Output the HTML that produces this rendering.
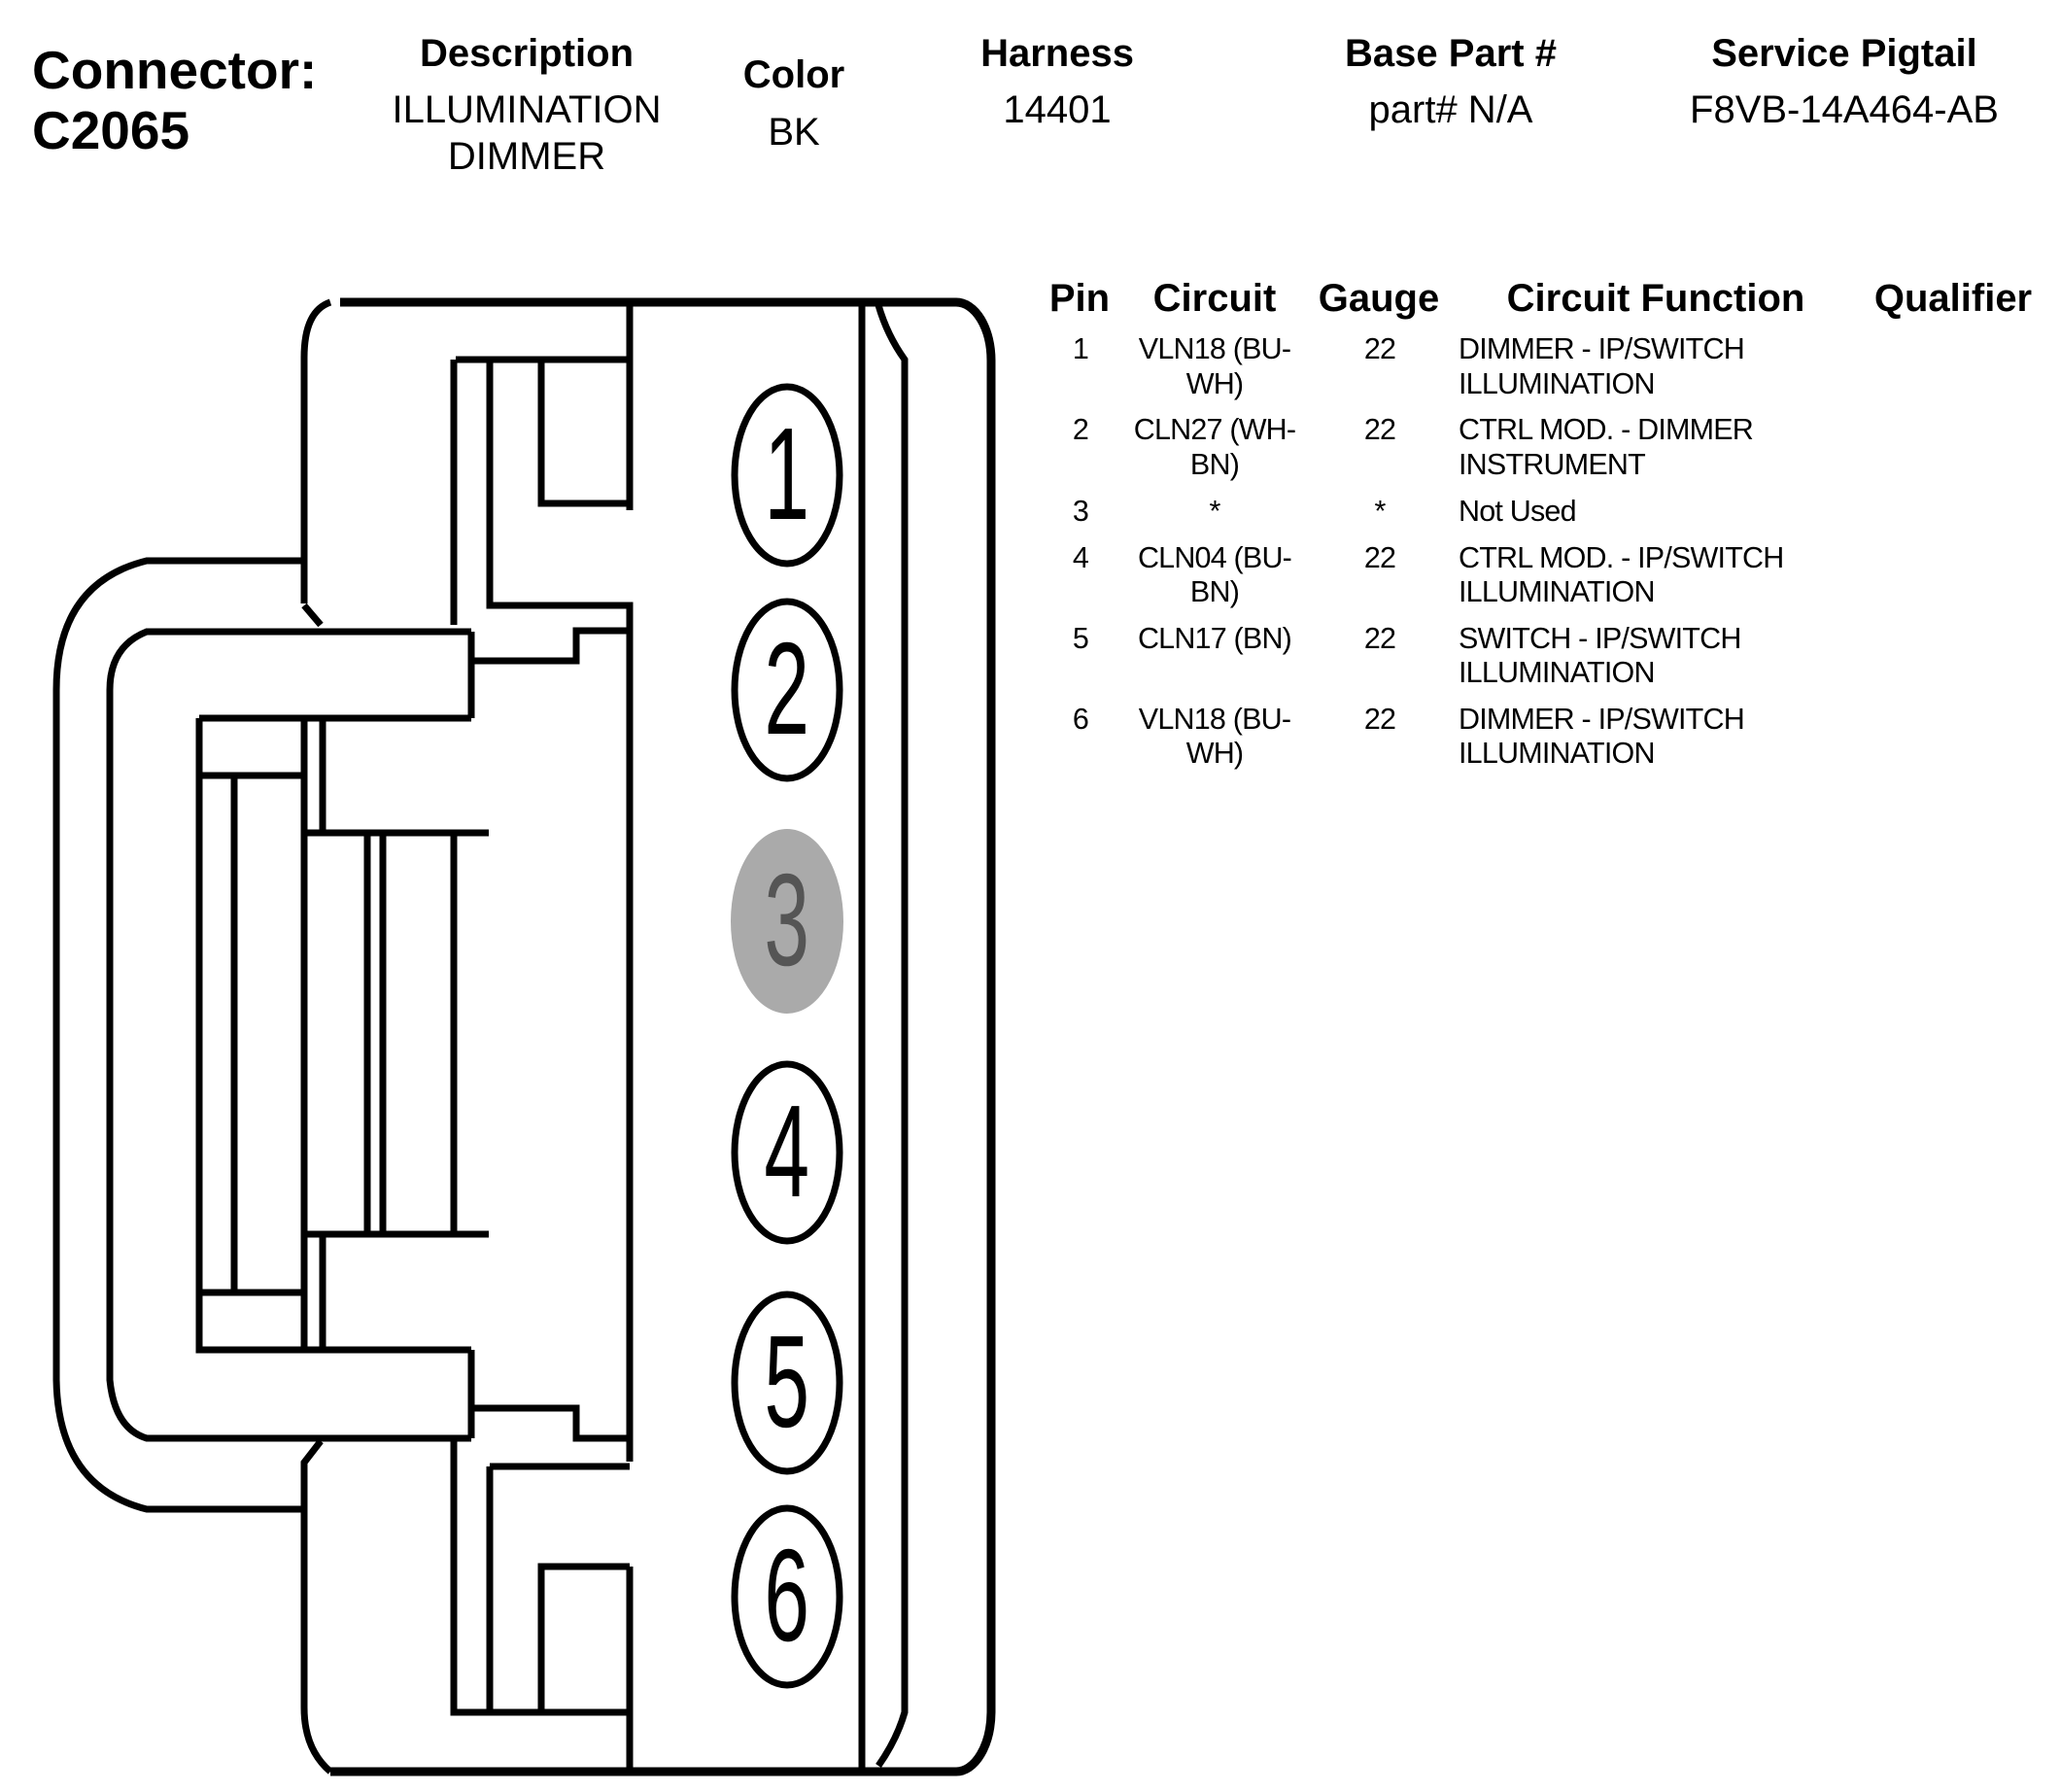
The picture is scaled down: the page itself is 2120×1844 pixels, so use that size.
<!DOCTYPE html>
<html><head><meta charset="utf-8"><style>
html,body{margin:0;padding:0;background:#fff;}
svg{display:block;}
.h{font-family:"Liberation Sans",sans-serif;font-weight:bold;font-size:40px;text-anchor:middle;}
.v{font-family:"Liberation Sans",sans-serif;font-size:40px;text-anchor:middle;}
.r{font-family:"Liberation Sans",sans-serif;font-size:30.5px;letter-spacing:-0.8px;}
.c{text-anchor:middle;}
.n{font-family:"Liberation Sans",sans-serif;font-size:135px;text-anchor:middle;}
</style></head><body>
<svg width="2120" height="1844" viewBox="0 0 2120 1844" xmlns="http://www.w3.org/2000/svg">
<rect width="2120" height="1844" fill="#fff"/>
<text x="33" y="91" font-family="Liberation Sans, sans-serif" font-weight="bold" font-size="55">Connector:</text>
<text x="33" y="153" font-family="Liberation Sans, sans-serif" font-weight="bold" font-size="55">C2065</text>
<text class="h" x="542" y="68">Description</text>
<text class="v" x="542" y="126">ILLUMINATION</text>
<text class="v" x="542" y="174">DIMMER</text>
<text class="h" x="817" y="90">Color</text>
<text class="v" x="817" y="149">BK</text>
<text class="h" x="1088" y="68">Harness</text>
<text class="v" x="1088" y="126">14401</text>
<text class="h" x="1493" y="68">Base Part #</text>
<text class="v" x="1493" y="126">part# N/A</text>
<text class="h" x="1898" y="68">Service Pigtail</text>
<text class="v" x="1898" y="126">F8VB-14A464-AB</text>

<text class="h" x="1111" y="320">Pin</text>
<text class="h" x="1250" y="320">Circuit</text>
<text class="h" x="1419" y="320">Gauge</text>
<text class="h" x="1704" y="320">Circuit Function</text>
<text class="h" x="2010" y="320">Qualifier</text>

<g class="r">
<text class="c" x="1112" y="369">1</text><text class="c" x="1250" y="369">VLN18 (BU-</text><text class="c" x="1250" y="405">WH)</text><text class="c" x="1420" y="369">22</text><text x="1501" y="369">DIMMER - IP/SWITCH</text><text x="1501" y="405">ILLUMINATION</text>
<text class="c" x="1112" y="452">2</text><text class="c" x="1250" y="452">CLN27 (WH-</text><text class="c" x="1250" y="488">BN)</text><text class="c" x="1420" y="452">22</text><text x="1501" y="452">CTRL MOD. - DIMMER</text><text x="1501" y="488">INSTRUMENT</text>
<text class="c" x="1112" y="536">3</text><text class="c" x="1250" y="536">*</text><text class="c" x="1420" y="536">*</text><text x="1501" y="536">Not Used</text>
<text class="c" x="1112" y="584">4</text><text class="c" x="1250" y="584">CLN04 (BU-</text><text class="c" x="1250" y="619">BN)</text><text class="c" x="1420" y="584">22</text><text x="1501" y="584">CTRL MOD. - IP/SWITCH</text><text x="1501" y="619">ILLUMINATION</text>
<text class="c" x="1112" y="667">5</text><text class="c" x="1250" y="667">CLN17 (BN)</text><text class="c" x="1420" y="667">22</text><text x="1501" y="667">SWITCH - IP/SWITCH</text><text x="1501" y="702">ILLUMINATION</text>
<text class="c" x="1112" y="750">6</text><text class="c" x="1250" y="750">VLN18 (BU-</text><text class="c" x="1250" y="785">WH)</text><text class="c" x="1420" y="750">22</text><text x="1501" y="750">DIMMER - IP/SWITCH</text><text x="1501" y="785">ILLUMINATION</text>
</g>

<g fill="none" stroke="#000" stroke-width="7">
<path d="M350,311 H984 A36,60 0 0 1 1020,371 V1762 A36,62 0 0 1 984,1823 H340" stroke-width="9"/>
<path d="M313,1757 Q313,1800 340,1823"/>
<path d="M340,311 Q313,320 313,368 V621"/>
<path d="M313,623 L330,643"/>
<path d="M313,577 H151 Q58,600 58,710 V1420 Q60,1530 151,1553 H313"/>
<path d="M330,1483 L313,1505 V1757"/>
<path d="M485,650 H151 Q113,665 113,710 V1420 Q118,1470 151,1480 H485"/>
<path d="M485,650 V739 M485,1389 V1480"/>
<path d="M205,739 H485 M205,739 V1389 H485 M205,798 H313 M241,798 V1330 M205,1330 H313 M313,739 V1389 M332,739 V857 M332,1270 V1389 M313,857 H503 M313,1270 H503 M378,857 V1270 M394,857 V1270 M467,857 V1270"/>
<path d="M648,311 V525 M469,370 H648 M557,370 V518 H648 M467,370 V643 M504,370 V623 H648 V1504 M485,680 H593 V649 H648"/>
<path d="M485,1449 H593 V1480 H648 M504,1509 H648 M504,1509 V1762 M467,1480 V1762 H648 M557,1762 V1612 H648 M648,1612 V1823"/>
<path d="M887,311 V1823"/>
<path d="M904,314 Q913,345 931,370 V1762 Q923,1790 904,1817"/>
<ellipse cx="810" cy="489" rx="54" ry="91"/>
<ellipse cx="810" cy="710" rx="54" ry="91"/>
<ellipse cx="810" cy="1186" rx="54" ry="91"/>
<ellipse cx="810" cy="1423" rx="54" ry="91"/>
<ellipse cx="810" cy="1643" rx="54" ry="91"/>
</g>
<ellipse cx="810" cy="948" rx="58" ry="95" fill="#aaa"/>
<g transform="scale(0.62,1)">
<text class="n" x="1306" y="534">1</text>
<text class="n" x="1306" y="755">2</text>
<text class="n" x="1306" y="993" fill="#555">3</text>
<text class="n" x="1306" y="1231">4</text>
<text class="n" x="1306" y="1468">5</text>
<text class="n" x="1306" y="1688">6</text>
</g>
</svg>
</body></html>
